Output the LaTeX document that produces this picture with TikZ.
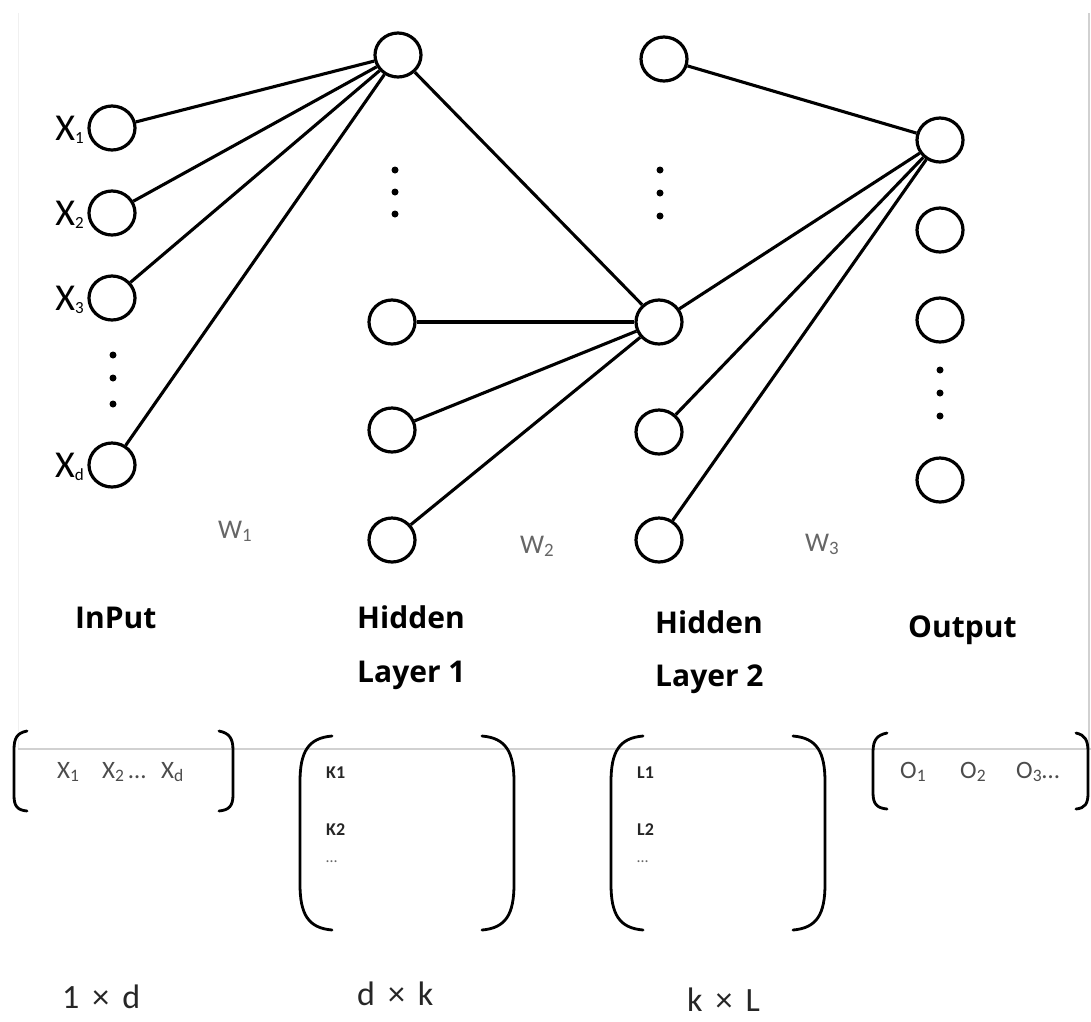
\documentclass[tikz,border=0pt]{standalone}
\usepackage{fontspec}
\setmainfont{Carlito}
\newfontfamily\hdr{Open Sans}
\usetikzlibrary{shapes.geometric}
\newcommand{\lowsub}[1]{\raisebox{-0.08em}{\fontsize{17}{18}\selectfont #1}}
\begin{document}
\begin{tikzpicture}[x=1pt,y=-1pt,
 neuron/.style={ellipse,draw,line width=3.2pt,minimum width=46pt,minimum height=44pt,inner sep=0pt},
 edge/.style={line width=3.1pt},
 dotm/.style={circle,fill,inner sep=0pt,minimum size=7pt},
 inlab/.style={font=\fontsize{38}{40}\selectfont,anchor=base east,inner sep=0pt},
 wlab/.style={font=\fontsize{27}{30}\selectfont,text=black!60,anchor=base west,inner sep=0pt},
 head/.style={font=\hdr\bfseries\fontsize{30}{34}\selectfont,anchor=base west,inner sep=0pt},
 mtx/.style={font=\fontsize{25}{28}\selectfont,text=black!70,anchor=base west,inner sep=0pt},
 mb/.style={font=\bfseries\fontsize{18}{20}\selectfont,text=black!85,anchor=base west,inner sep=0pt},
 dimlab/.style={font=\fontsize{34}{38}\selectfont,text=black!85,anchor=base west,inner sep=0pt},
 brk/.style={line width=2.8pt,line cap=round},
 frame/.style={draw=black!18,line width=1.2pt}]
\useasboundingbox (0,0) rectangle (1091,1021);
\fill[white] (0,0) rectangle (1091,1021);
% faint frame
\coordinate (fl1) at (18,13); \coordinate (fl2) at (18,749);
\coordinate (fr1) at (1089,13); \coordinate (fr2) at (1089,749);
\coordinate (fb) at (1091,749);
\draw[draw=black!6,line width=1pt] (fl1) -- (fl2);
\draw[frame] (fr1) -- (fr2);
\draw[frame] (fl2) -- (fb);

% input layer
\node[neuron] (x1) at (112,128) {};
\node[neuron] (x2) at (112,213) {};
\node[neuron] (x3) at (112,298) {};
\node[neuron] (xd) at (112,465) {};
\node[dotm] (dx1) at (113,355) {};
\node[dotm] (dx2) at (113,378) {};
\node[dotm] (dx3) at (113,404) {};
\node[inlab] (lx1) at (84,140) {X\lowsub{1}};
\node[inlab] (lx2) at (84,225) {X\lowsub{2}};
\node[inlab] (lx3) at (84,310) {X\lowsub{3}};
\node[inlab] (lxd) at (84,477) {X\lowsub{d}};

% hidden layer 1
\node[neuron] (h1a) at (398,55) {};
\node[dotm] (dh1) at (395,170) {};
\node[dotm] (dh2) at (395,192) {};
\node[dotm] (dh3) at (395,214) {};
\node[neuron] (h1b) at (392,322) {};
\node[neuron] (h1c) at (392,430) {};
\node[neuron] (h1d) at (392,540) {};

% hidden layer 2
\node[neuron] (h2a) at (664,59) {};
\node[dotm] (dg1) at (660,170) {};
\node[dotm] (dg2) at (660,193) {};
\node[dotm] (dg3) at (660,216) {};
\node[neuron] (h2b) at (659,322) {};
\node[neuron] (h2c) at (659,432) {};
\node[neuron] (h2d) at (659,540) {};

% output layer
\node[neuron] (oa) at (940,140) {};
\node[neuron] (ob) at (940,230) {};
\node[neuron] (oc) at (940,320) {};
\node[dotm] (do1) at (940,370) {};
\node[dotm] (do2) at (940,393) {};
\node[dotm] (do3) at (940,416) {};
\node[neuron] (od) at (940,480) {};

% connectors
\foreach \s in {x1,x2,x3,xd} \draw[edge] (\s) -- (h1a);
\foreach \s in {h1a,h1b,h1c,h1d} \draw[edge] (\s) -- (h2b);
\foreach \s in {h2a,h2b,h2c,h2d} \draw[edge] (\s) -- (oa);

% weight labels
\node[wlab] (w1) at (218,538) {W\textsubscript{1}};
\node[wlab] (w2) at (520,553) {W\textsubscript{2}};
\node[wlab] (w3) at (805,551) {W\textsubscript{3}};

% layer names
\node[head] (t1) at (75,628) {InPut};
\node[head] (t2) at (357,628) {Hidden};
\node[head] (t3) at (357,682) {Layer 1};
\node[head] (t4) at (655,633) {Hidden};
\node[head] (t5) at (655,686) {Layer 2};
\node[head] (t6) at (908,637) {Output};

% input matrix
\draw[brk] (27,731) .. controls (17,733) and (14,738) .. (14,750) -- (14,795) .. controls (14,806) and (17,810) .. (27,811);
\draw[brk] (219,731) .. controls (229,733) and (233,738) .. (233,750) -- (233,795) .. controls (233,806) and (229,810) .. (219,811);
\node[mtx] (m1) at (57,778) {X\textsubscript{1}};
\node[mtx] (m2) at (102,778) {X\textsubscript{2}\,…};
\node[mtx] (m3) at (161,778) {X\textsubscript{d}};

% K matrix
\draw[brk] (332,736) .. controls (308,738) and (300,752) .. (300,782) -- (300,884) .. controls (300,914) and (308,928) .. (332,930);
\draw[brk] (482,736) .. controls (506,738) and (514,752) .. (514,782) -- (514,884) .. controls (514,914) and (506,928) .. (482,930);
\node[mb] (k1) at (326,778) {K1};
\node[mb] (k2) at (326,835) {K2};
\node[mb,font=\fontsize{16}{18}\selectfont,text=black!60] (k3) at (326,862) {…};

% L matrix
\draw[brk] (643,736) .. controls (619,738) and (611,752) .. (611,782) -- (611,884) .. controls (611,914) and (619,928) .. (643,930);
\draw[brk] (793,736) .. controls (817,738) and (825,752) .. (825,782) -- (825,884) .. controls (825,914) and (817,928) .. (793,930);
\node[mb] (l1) at (637,778) {L1};
\node[mb] (l2) at (637,835) {L2};
\node[mb,font=\fontsize{16}{18}\selectfont,text=black!60] (l3) at (637,862) {…};

% output matrix
\draw[brk] (887,733) .. controls (877,735) and (873,740) .. (873,752) -- (873,793) .. controls (873,804) and (877,808) .. (887,809);
\draw[brk] (1076,733) .. controls (1085,735) and (1088,740) .. (1088,752) -- (1088,793) .. controls (1088,804) and (1085,808) .. (1076,809);
\node[mtx] (o1) at (900,778) {O\textsubscript{1}};
\node[mtx] (o2) at (960,778) {O\textsubscript{2}};
\node[mtx] (o3) at (1016,778) {O\textsubscript{3}…};

% dimensions
\node[dimlab] (d1) at (62,1008) {1\hspace{13pt}×\hspace{13pt}d};
\node[dimlab] (d2) at (357,1005) {d\hspace{13pt}×\hspace{13pt}k};
\node[dimlab] (d3) at (687,1011) {k\hspace{13pt}×\hspace{13pt}L};
\end{tikzpicture}
\end{document}
